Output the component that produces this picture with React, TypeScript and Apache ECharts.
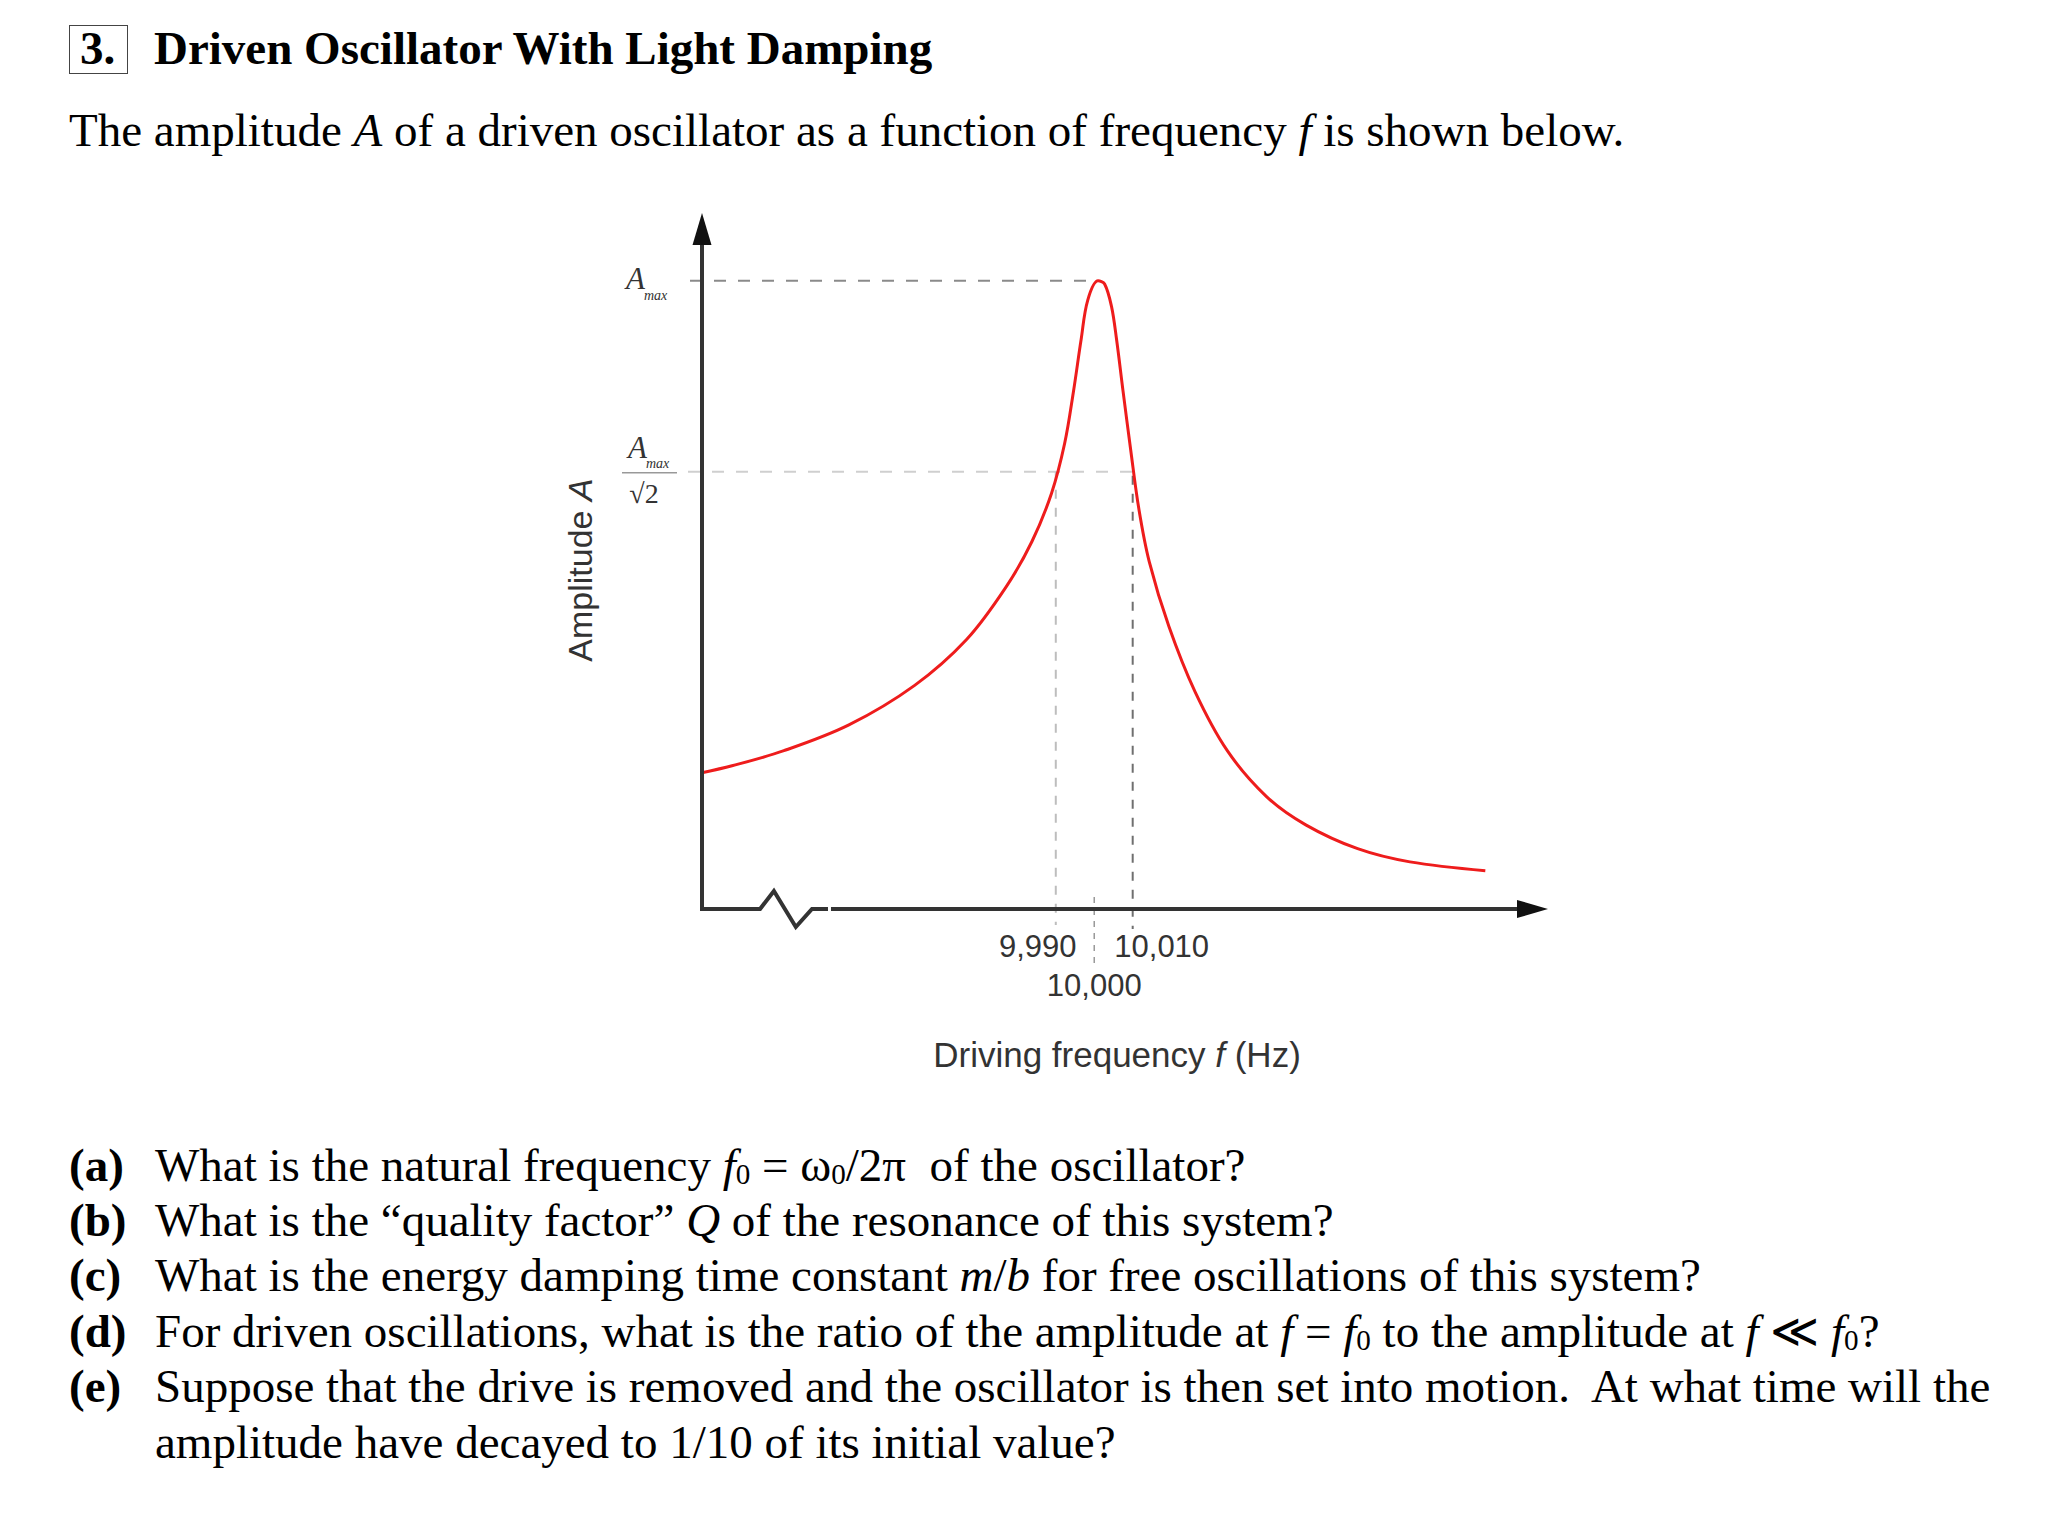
import React, { useEffect, useRef } from "react";
import * as echarts from "echarts";

// ---------------- data ----------------
const freqHz = [
  9898, 9905.8, 9919.3, 9936.2, 9953.3, 9966.8, 9977.0, 9983.8, 9988.9, 9992.3,
  9994.6, 9996.6, 9998.3, 10001, 10002.7, 10004.5, 10005.8, 10007.5, 10009.5,
  10011.6, 10014.3, 10019.4, 10026.2, 10034.6, 10044.8, 10055, 10068.5, 10082.1,
  10101.7,
];
const amplitude = [
  0.217, 0.228, 0.252, 0.293, 0.356, 0.429, 0.512, 0.585, 0.662, 0.741, 0.824,
  0.907, 0.969, 1.0, 0.995, 0.959, 0.907, 0.824, 0.73, 0.637, 0.553, 0.45, 0.346,
  0.252, 0.179, 0.134, 0.096, 0.075, 0.061,
];
const tickValues = [9990, 10000, 10010];
const tickLabels = ["9,990", "10,000", "10,010"];
const xRange = [9898, 10118];
const yRange = [0, 1.108];
const peakLevel = 1;
const halfPowerLevel = 0.696;
const bandEdges = [9990, 10010];
const centerFreq = 10000;
const peakGuideEnd = 9998.4;
const breakFreq = [9913.1, 9916.7, 9922.4, 9926.6];
const breakAmp = [0, 0.0287, -0.0287, 0];

const SANS = '"Liberation Sans", Arial, sans-serif';
const SERIF = '"Liberation Serif", "Times New Roman", serif';

function Line(props: {
  left: number;
  baseline: number;
  size: number;
  bold?: boolean;
  sx?: number;
  children: React.ReactNode;
}) {
  const { left, baseline, size, bold, sx = 1, children } = props;
  return (
    <div
      style={{
        position: "absolute",
        left,
        top: baseline - 0.8375 * size,
        fontFamily: SERIF,
        fontSize: size,
        lineHeight: 1,
        fontWeight: bold ? "bold" : "normal",
        whiteSpace: "pre",
        color: "#000",
        transform: `scaleX(${sx})`,
        transformOrigin: "0 0",
      }}
    >
      {children}
    </div>
  );
}

const sub = (t: string) => (
  <span style={{ fontSize: "0.62em", position: "relative", top: "0.12em", fontStyle: "normal" }}>{t}</span>
);
const it = (t: string) => <i>{t}</i>;

export default function App() {
  const ref = useRef<HTMLDivElement>(null);

  useEffect(() => {
    if (!ref.current) return;
    const chart = echarts.init(ref.current, null, { renderer: "svg" });
    chart.setOption({
      animation: false,
      grid: { left: 702, top: 213, width: 846, height: 696, containLabel: false, outerBoundsMode: "none" },
      xAxis: {
        type: "value",
        min: xRange[0],
        max: xRange[1],
        axisLine: { show: false },
        axisTick: { show: false },
        splitLine: { show: false },
        axisLabel: {
          customValues: tickValues,
          hideOverlap: false,
          margin: 22,
          fontFamily: SANS,
          fontSize: 31,
          color: "#333",
          formatter: (v: number) => {
            const i = tickValues.indexOf(v);
            const key = v < centerFreq ? "l" : v > centerFreq ? "r" : "c";
            return `{${key}|${tickLabels[i]}}`;
          },
          rich: {
            l: { fontFamily: SANS, fontSize: 31, color: "#333", padding: [0, 36, 0, 0] },
            r: { fontFamily: SANS, fontSize: 31, color: "#333", padding: [0, 0, 0, 58] },
            c: { fontFamily: SANS, fontSize: 31, color: "#333", padding: [39, 0, 0, 0] },
          },
        },
      },
      yAxis: {
        type: "value",
        min: yRange[0],
        max: yRange[1],
        axisLine: { show: false },
        axisTick: { show: false },
        splitLine: { show: false },
        axisLabel: { show: false },
      },
      series: [
        {
          type: "line",
          data: freqHz.map((f, i) => [f, amplitude[i]]),
          smooth: 0.35,
          showSymbol: false,
          clip: false,
          z: 5,
          lineStyle: { color: "#ee1c1c", width: 3 },
        },
      ],
    });

    const p = (f: number, a: number) => chart.convertToPixel({ gridIndex: 0 }, [f, a]) as number[];
    const [ox, oy] = p(xRange[0], 0);
    const topY = p(xRange[0], yRange[1])[1];
    const endX = p(xRange[1], 0)[0];
    const brk = breakFreq.map((f, i) => p(f, breakAmp[i]));
    const yPk = p(centerFreq, peakLevel)[1];
    const yHalf = p(centerFreq, halfPowerLevel)[1];
    const xL = p(bandEdges[0], 0)[0];
    const xR = p(bandEdges[1], 0)[0];
    const xC = p(centerFreq, 0)[0];
    const xPkEnd = p(peakGuideEnd, 0)[0];

    const dashed = (x1: number, y1: number, x2: number, y2: number, color: string, dash: number[], w = 2) => ({
      type: "line",
      shape: { x1, y1, x2, y2 },
      style: { stroke: color, lineWidth: w, lineDash: dash },
      z: 1,
    });
    const txt = (x: number, y: number, text: string, extra: any) => ({
      type: "text",
      x,
      y,
      style: { text, fill: "#333", verticalAlign: "middle", ...extra },
      z: 10,
    });

    chart.setOption({
      graphic: [
        dashed(ox - 12, yPk, xPkEnd, yPk, "#8a8a8a", [12, 12]),
        dashed(ox - 14, yHalf, xR, yHalf, "#cfcfcf", [12, 12]),
        dashed(xL, yHalf, xL, oy + 16, "#bdbdbd", [9, 9]),
        dashed(xR, yHalf + 4, xR, oy + 20, "#6f6f6f", [9, 9]),
        dashed(xC, oy - 12, xC, oy + 58, "#999999", [6, 6], 1.5),
        {
          type: "polyline",
          shape: { points: [[ox, topY + 30], [ox, oy], brk[0], brk[1], brk[2], brk[3], [brk[3][0] + 16, oy]] },
          style: { stroke: "#333", lineWidth: 4, fill: null, lineJoin: "miter" },
          z: 6,
        },
        {
          type: "line",
          shape: { x1: brk[3][0] + 19, y1: oy, x2: endX - 26, y2: oy },
          style: { stroke: "#333", lineWidth: 4 },
          z: 6,
        },
        {
          type: "polygon",
          shape: { points: [[ox, topY], [ox - 9.5, topY + 32], [ox + 9.5, topY + 32]] },
          style: { fill: "#111" },
          z: 7,
        },
        {
          type: "polygon",
          shape: { points: [[endX, oy], [endX - 31, oy - 9], [endX - 31, oy + 9]] },
          style: { fill: "#111" },
          z: 7,
        },
        txt(ox - 57, yPk - 2, "A", { align: "right", font: `italic 31px ${SERIF}` }),
        txt(ox - 58, yPk + 15, "max", { align: "left", font: `italic 14px ${SERIF}` }),
        txt(ox - 55, yHalf - 24, "A", { align: "right", font: `italic 31px ${SERIF}` }),
        txt(ox - 56, yHalf - 8, "max", { align: "left", font: `italic 14px ${SERIF}` }),
        {
          type: "line",
          shape: { x1: ox - 80, y1: yHalf + 1, x2: ox - 25, y2: yHalf + 1 },
          style: { stroke: "#999", lineWidth: 1.5 },
          z: 10,
        },
        txt(ox - 58, yHalf + 22, "√2", { align: "center", font: `28px ${SERIF}` }),
        {
          type: "text",
          x: 580,
          y: 570,
          rotation: Math.PI / 2,
          style: {
            text: "{n|Amplitude }{i|A}",
            align: "center",
            verticalAlign: "middle",
            rich: {
              n: { fontFamily: SANS, fontSize: 34, fill: "#333", color: "#333" },
              i: { fontFamily: SANS, fontSize: 34, fontStyle: "italic", fill: "#333", color: "#333" },
            },
          },
          z: 10,
        },
        {
          type: "text",
          x: 1117,
          y: 1054,
          style: {
            text: "{n|Driving frequency }{i|f}{n| (Hz)}",
            align: "center",
            verticalAlign: "middle",
            rich: {
              n: { fontFamily: SANS, fontSize: 35, fill: "#333", color: "#333" },
              i: { fontFamily: SANS, fontSize: 35, fontStyle: "italic", fill: "#333", color: "#333" },
            },
          },
          z: 10,
        },
      ],
    });

    return () => chart.dispose();
  }, []);

  const qStep = 55.4;
  const qBase = 1181;
  const qs: React.ReactNode[] = [
    <>What is the natural frequency {it("f")}{sub("0")} = ω{sub("0")}/2π{"  "}of the oscillator?</>,
    <>What is the “quality factor” {it("Q")} of the resonance of this system?</>,
    <>What is the energy damping time constant {it("m")}/{it("b")} for free oscillations of this system?</>,
    <>For driven oscillations, what is the ratio of the amplitude at {it("f")} = {it("f")}{sub("0")} to the amplitude at {it("f")} ≪ {it("f")}{sub("0")}?</>,
    <>Suppose that the drive is removed and the oscillator is then set into motion.{"  "}At what time will the</>,
  ];
  const labels = ["(a)", "(b)", "(c)", "(d)", "(e)"];

  return (
    <div style={{ position: "absolute", left: 0, top: 0, width: 2046, height: 1516, background: "#fff", overflow: "hidden" }}>
      <div ref={ref} style={{ position: "absolute", left: 0, top: 0, width: 2046, height: 1516 }} />
      <div
        style={{
          position: "absolute",
          left: 69,
          top: 25,
          width: 59,
          height: 49,
          boxSizing: "border-box",
          border: "1.5px solid #444",
        }}
      />
      <Line left={80} baseline={64} size={47} bold>3.</Line>
      <Line left={154} baseline={64} size={47} bold>Driven Oscillator With Light Damping</Line>
      <Line left={69} baseline={146} size={47}>
        The amplitude {it("A")} of a driven oscillator as a function of frequency {it("f")} is shown below.
      </Line>
      {qs.map((q, i) => (
        <React.Fragment key={i}>
          <Line left={69} baseline={qBase + i * qStep} size={47} bold>{labels[i]}</Line>
          <Line left={155} baseline={qBase + i * qStep} size={47}>{q}</Line>
        </React.Fragment>
      ))}
      <Line left={155} baseline={qBase + 5 * qStep} size={47}>amplitude have decayed to 1/10 of its initial value?</Line>
    </div>
  );
}
